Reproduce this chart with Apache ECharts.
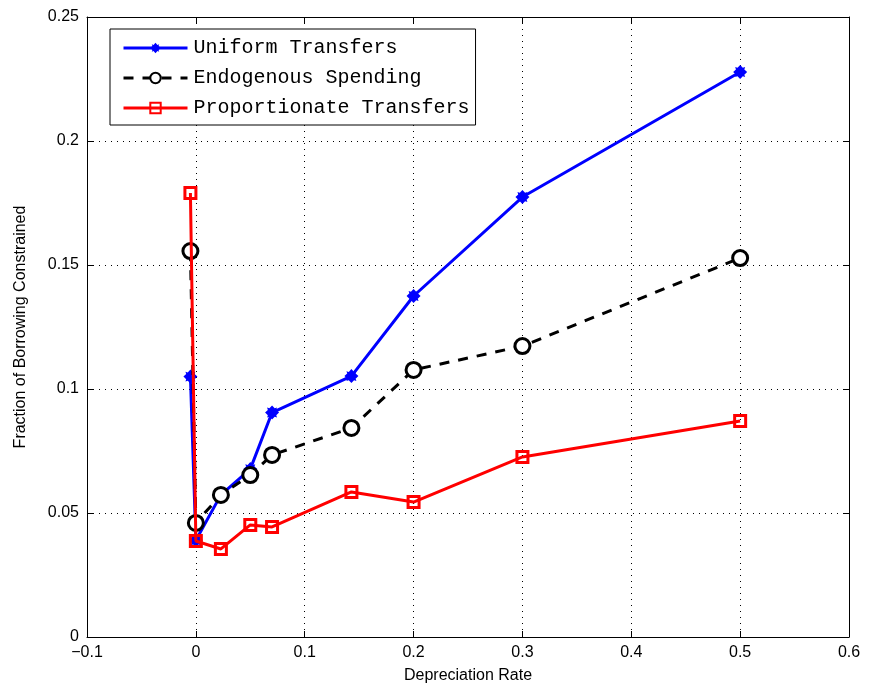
<!DOCTYPE html>
<html><head><meta charset="utf-8">
<script src="https://cdn.jsdelivr.net/npm/echarts@6/dist/echarts.min.js"></script>
<style>html,body{margin:0;padding:0;background:#fff}#c{width:869px;height:696px}</style>
</head><body><div id="c"></div>
<script>
const xValues = [-0.005, 0, 0.023, 0.05, 0.07, 0.1429, 0.2, 0.3, 0.5];
const uniformTransfers = [0.105, 0.039, 0.0573, 0.0677, 0.0905, 0.1052, 0.1375, 0.1774, 0.2278];
const endogenousSpending = [0.1556, 0.046, 0.0573, 0.0653, 0.0734, 0.0843, 0.1077, 0.1173, 0.1528];
const proportionateTransfers = [0.179, 0.0387, 0.0355, 0.0452, 0.0444, 0.0585, 0.0544, 0.0726, 0.0871];
const seriesNames = ['Uniform Transfers', 'Endogenous Spending', 'Proportionate Transfers'];
const xTicks = [-0.1, 0, 0.1, 0.2, 0.3, 0.4, 0.5, 0.6];
const yTicks = [0, 0.05, 0.1, 0.15, 0.2, 0.25];

const pair = arr => xValues.map((x, i) => [x, arr[i]]);
const font = "'Liberation Sans Narrow', 'Liberation Sans', Arial, sans-serif";
const fmt = v => (v < 0 ? '\u2212' + String(-v) : String(v));
const star = 'path://M0,-10 L3.8,-6 L7.1,-7.1 L6,-3.8 L10,0 L6,3.8 L7.1,7.1 L3.8,6 L0,10 L-3.8,6 L-7.1,7.1 L-6,3.8 L-10,0 L-6,-3.8 L-7.1,-7.1 L-3.8,-6 Z';

const chart = echarts.init(document.getElementById('c'), null, {renderer: 'canvas'});
const baseX = {
  type: 'value', min: -0.1, max: 0.6, interval: 0.1,
  axisLine: {show: true, onZero: false, lineStyle: {color: '#000', width: 1}},
  axisTick: {show: true, inside: true, length: 6, lineStyle: {color: '#000'}},
};
const baseY = {
  type: 'value', min: 0, max: 0.25, interval: 0.05,
  axisLine: {show: true, onZero: false, lineStyle: {color: '#000', width: 1}},
  axisTick: {show: true, inside: true, length: 6, lineStyle: {color: '#000'}},
};
chart.setOption({
  animation: false,
  backgroundColor: '#fff',
  grid: {left: 87, right: 20, top: 17, bottom: 59},
  legend: {
    left: 110, top: 29, orient: 'vertical',
    data: seriesNames,
    itemWidth: 64, itemHeight: 13, itemGap: 10,
    borderColor: '#000', borderWidth: 1, backgroundColor: '#fff',
    padding: [9, 6, 7, 12],
    lineStyle: {width: 3},
    textStyle: {fontFamily: "'Liberation Mono', 'DejaVu Sans Mono', monospace", fontSize: 20, color: '#000', padding: [0, 0, 0, 1]}
  },
  xAxis: [
    Object.assign({}, baseX, {
      position: 'bottom',
      name: 'Depreciation Rate', nameLocation: 'middle', nameGap: 31,
      nameTextStyle: {fontFamily: font, fontSize: 16, color: '#000'},
      axisLabel: {fontFamily: font, fontSize: 16, color: '#000', margin: 8, formatter: fmt},
      splitLine: {show: true, lineStyle: {color: '#000', type: [1, 5], width: 1}}
    }),
    Object.assign({}, baseX, {position: 'top', axisLabel: {show: false}, splitLine: {show: false}})
  ],
  yAxis: [
    Object.assign({}, baseY, {
      position: 'left',
      name: 'Fraction of Borrowing Constrained', nameLocation: 'middle', nameGap: 58,
      nameTextStyle: {fontFamily: font, fontSize: 16, color: '#000'},
      axisLabel: {fontFamily: font, fontSize: 16, color: '#000', margin: 8, formatter: v => String(v)},
      splitLine: {show: true, lineStyle: {color: '#000', type: [1, 5], width: 1}}
    }),
    Object.assign({}, baseY, {position: 'right', axisLabel: {show: false}, splitLine: {show: false}})
  ],
  series: [
    {
      name: seriesNames[0], type: 'line', data: pair(uniformTransfers),
      lineStyle: {color: '#0000ff', width: 3}, itemStyle: {color: '#0000ff'},
      symbol: star, symbolSize: 14, showAllSymbol: true, z: 2
    },
    {
      name: seriesNames[1], type: 'line', data: pair(endogenousSpending),
      lineStyle: {color: '#000', width: 3, type: [10, 9]},
      itemStyle: {color: '#fff', borderColor: '#000', borderWidth: 3},
      symbol: 'circle', symbolSize: 15, showAllSymbol: true, z: 3
    },
    {
      name: seriesNames[2], type: 'line', data: pair(proportionateTransfers),
      lineStyle: {color: '#ff0000', width: 3},
      itemStyle: {color: 'rgba(255,255,255,0)', borderColor: '#ff0000', borderWidth: 3},
      symbol: 'rect', symbolSize: 11, showAllSymbol: true, z: 4
    }
  ]
});
</script></body></html>
